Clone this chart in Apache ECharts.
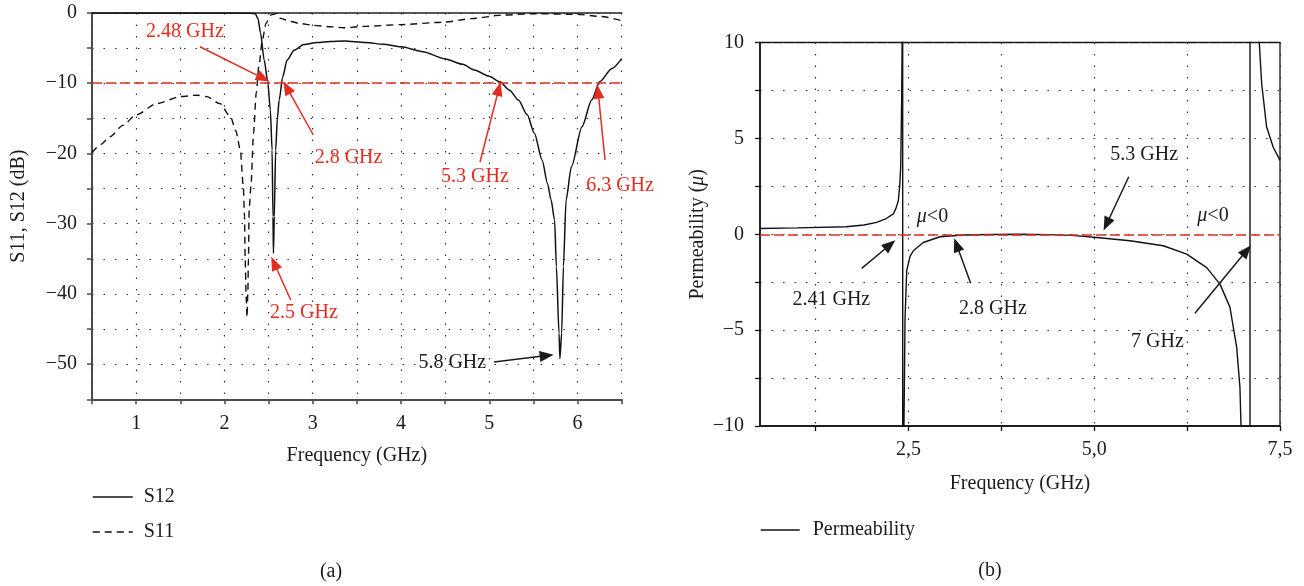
<!DOCTYPE html>
<html><head><meta charset="utf-8">
<script src="https://cdn.jsdelivr.net/npm/echarts@6/dist/echarts.min.js"></script>
<style>html,body{margin:0;padding:0;background:#fff}#c{width:1304px;height:586px}</style>
</head><body><div id="c"></div>
<script>
// ================= DATA: panel (a) =================
// S12 transmission (GHz, dB)
const s12 = [[0.5,0],[1.0,0],[1.5,0],[2.0,0],[2.3,-0.02],[2.35,-0.1],[2.38,-0.8],[2.41,-2.9],[2.45,-6.7],[2.49,-9.7],
  [2.52,-13.8],[2.54,-19.5],[2.55,-29],[2.555,-34.2],[2.565,-29],[2.58,-19.5],[2.60,-15],[2.62,-12.4],[2.66,-9.1],
  [2.71,-6.7],[2.79,-5.3],[2.9,-4.5],[3.05,-4.2],[3.2,-4.05],[3.36,-4.0],[3.6,-4.2],[3.8,-4.45],[4.0,-4.8],[4.25,-5.5],
  [4.49,-6.5],[4.7,-7.3],[4.83,-8.1],[5.0,-9.0],[5.12,-9.8],[5.23,-11],[5.33,-12.4],[5.43,-14.5],[5.51,-17.1],[5.6,-21],
  [5.66,-24.3],[5.70,-26.6],[5.74,-29.5],[5.76,-36.1],[5.79,-45.6],[5.80,-49.2],[5.82,-45.6],[5.84,-36.1],[5.87,-26.6],
  [5.93,-21.9],[6.05,-16.2],[6.16,-12.4],[6.25,-9.8],[6.39,-7.9],[6.5,-6.5]];
// S11 reflection (GHz, dB)
const s11 = [[0.5,-19.9],[0.6,-18.7],[0.705,-17.6],[0.85,-16],[1.0,-14.5],[1.235,-12.9],[1.5,-11.9],[1.69,-11.7],
  [1.8,-11.9],[1.95,-12.9],[2.07,-14.8],[2.13,-16.8],[2.18,-19.5],[2.214,-24.7],[2.228,-29],[2.235,-35],[2.245,-40],
  [2.256,-43.3],[2.265,-40],[2.272,-35],[2.28,-28],[2.30,-24.7],[2.33,-17.1],[2.36,-11.4],[2.39,-7.6],[2.43,-3.8],
  [2.47,-1.5],[2.52,-0.3],[2.58,-0.1],[2.64,-0.8],[2.75,-1.2],[2.86,-1.5],[3.0,-1.75],[3.2,-1.95],[3.35,-2.1],
  [3.6,-1.9],[4.0,-1.65],[4.49,-1.3],[4.8,-0.8],[5.14,-0.3],[5.5,-0.1],[6.0,-0.2],[6.27,-0.5],[6.5,-1.1]];
const refLevelA = -10;
const xRangeA = [0.5, 6.5];
const yRangeA = [-55, 0];
const yTickLabelsA = [0, -10, -20, -30, -40, -50];
const xTickLabelsA = [1, 2, 3, 4, 5, 6];
// annotations (a): label, text anchor, arrow start, arrow tip, colour key
const annLabelsA = ['2.48 GHz', '2.8 GHz', '5.3 GHz', '6.3 GHz', '2.5 GHz', '5.8 GHz'];
const annTextA = [[1.553,-2.66],[3.406,-20.64],[4.838,-23.35],[6.481,-24.63],[2.901,-42.71],[4.581,-49.83]];
const annFromA = [[1.723,-4.80],[3.007,-17.37],[4.895,-21.21],[6.311,-20.93],[2.751,-40.86],[5.054,-49.69]];
const annToA = [[2.440,-9.3],[2.706,-10.6],[5.108,-10.8],[6.233,-11.2],[2.563,-35.6],[5.650,-48.78]];
const annRedA = [true, true, true, true, true, false];

// ================= DATA: panel (b) =================
const perm = [[0.5,0.30],[1.0,0.33],[1.66,0.39],[1.9,0.48],[2.07,0.62],[2.2,0.82],[2.295,1.06],[2.33,1.35],
  [2.362,1.75],[2.38,2.5],[2.394,3.5],[2.407,7.0],[2.413,10],[2.42,30],[2.422,-30],[2.438,-10],[2.452,-4.5],
  [2.475,-1.9],[2.52,-1.15],[2.564,-0.86],[2.698,-0.43],[2.923,-0.13],[3.237,-0.04],[3.6,-0.01],[4.0,0.0],
  [4.37,-0.02],[4.7,-0.06],[5.032,-0.17],[5.48,-0.34],[5.929,-0.6],[6.244,-1.04],[6.513,-1.74],[6.692,-2.6],
  [6.826,-3.8],[6.917,-5.9],[6.961,-8.0],[6.975,-10],[6.98,-30],[7.096,-30],[7.096,30],[7.215,30],[7.221,10],
  [7.253,7.86],[7.32,5.59],[7.409,4.54],[7.5,3.85]];
const refLevelB = 0;
const xRangeB = [0.5, 7.5];
const yRangeB = [-10, 10];
const xTicksB = [1.25, 2.5, 3.75, 5.0, 6.25, 7.5];
const xTickLabelsB = [2.5, 5.0, 7.5];
const yTickLabelsB = [10, 5, 0, -5, -10];
const annLabelsB = ['{i|μ}<0', '{i|μ}<0', '5.3 GHz', '2.41 GHz', '2.8 GHz', '7 GHz'];
const annTextB = [[2.822,0.90],[6.598,0.95],[5.671,4.13],[1.460,-3.43],[3.636,-3.86],[5.850,-5.60]];
const annFromB = [null, null, [5.464,3.00], [1.869,-1.78], [3.336,-2.56], [6.355,-4.12]];
const annToB = [null, null, [5.165,0.52], [2.250,-0.55], [3.147,-0.55], [7.050,-0.85]];

// ================= STYLE =================
const FF = 'Liberation Serif';
const FS = 20;
const INK = '#1e1a1b';
const RED = '#e42c20';
const minus = v => (v < 0 ? '\u2212' + Math.abs(v) : String(v));

function arrowItems(from, to, colorFn) {
  const out = [];
  for (let i = 0; i < from.length; i++) {
    if (!from[i]) continue;
    const c = colorFn(i);
    out.push([
      {coord: from[i], symbol: 'none', lineStyle: {color: c, width: 1.5, type: 'solid'}},
      {coord: to[i], symbol: 'triangle', symbolSize: [11, 14], itemStyle: {color: c}}
    ]);
  }
  return out;
}
function textItems(labels, pos, colorFn) {
  return labels.map((t, i) => ({value: pos[i], name: t, label: {color: colorFn(i)}}));
}
const dotted = {color: '#333', width: 1.2, type: [1.5, 10]};
const legendBase = {orient: 'vertical', padding: 0, itemHeight: 20, selectedMode: false,
  itemStyle: {opacity: 0, borderWidth: 0}, lineStyle: {width: 1.5}};

const option = {
  animation: false,
  backgroundColor: '#fff',
  textStyle: {fontFamily: FF},
  grid: [
    {left: 92, top: 13, width: 529.7, height: 386.3},
    {left: 760, top: 42.5, width: 520, height: 383.5, show: true, borderColor: '#111', borderWidth: 1.3, backgroundColor: 'transparent'}
  ],
  xAxis: [
    {gridIndex: 0, type: 'value', min: xRangeA[0], max: xRangeA[1], interval: 0.5,
     name: 'Frequency (GHz)', nameLocation: 'middle', nameGap: 46,
     nameTextStyle: {fontFamily: FF, fontSize: FS, color: INK},
     axisLine: {show: true, onZero: false, lineStyle: {color: '#4a4a4a', width: 2}},
     axisTick: {show: true, inside: false, length: 5, lineStyle: {color: '#4a4a4a', width: 1.5}},
     axisLabel: {margin: 14, fontFamily: FF, fontSize: FS, color: INK,
       formatter: v => (xTickLabelsA.indexOf(Math.round(v * 100) / 100) >= 0 ? String(v) : '')},
     splitLine: {show: true, lineStyle: dotted}},
    {gridIndex: 0, type: 'value', position: 'top', min: xRangeA[0], max: xRangeA[1],
     axisLine: {show: true, onZero: false, lineStyle: {color: '#222', width: 1.5}},
     axisTick: {show: false}, axisLabel: {show: false}, splitLine: {show: false}},
    {gridIndex: 1, type: 'value', min: xRangeB[0], max: xRangeB[1],
     name: 'Frequency (GHz)', nameLocation: 'middle', nameGap: 48,
     nameTextStyle: {fontFamily: FF, fontSize: FS, color: INK},
     axisLine: {show: true, onZero: false, lineStyle: {color: '#111', width: 1.5}},
     axisTick: {show: true, length: 5, customValues: xTicksB, lineStyle: {color: '#111', width: 1.3}},
     axisLabel: {margin: 14, fontFamily: FF, fontSize: FS, color: INK, customValues: xTickLabelsB,
       formatter: v => v.toFixed(1).replace('.', ',')},
     splitLine: {show: true, lineStyle: dotted}}
  ],
  yAxis: [
    {gridIndex: 0, type: 'value', min: yRangeA[0], max: yRangeA[1], interval: 5,
     name: 'S11, S12 (dB)', nameLocation: 'middle', nameGap: 63, nameRotate: 90,
     nameTextStyle: {fontFamily: FF, fontSize: FS, color: INK},
     axisLine: {show: true, onZero: false, lineStyle: {color: '#4a4a4a', width: 2}},
     axisTick: {show: true, length: 5, lineStyle: {color: '#4a4a4a', width: 1.5}},
     axisLabel: {margin: 15, fontFamily: FF, fontSize: FS, color: INK,
       formatter: v => (yTickLabelsA.indexOf(v) >= 0 ? minus(v) : '')},
     splitLine: {show: true, lineStyle: dotted}},
    {gridIndex: 1, type: 'value', min: yRangeB[0], max: yRangeB[1], interval: 2.5,
     name: '{n|Permeability (}{i|μ}{n|)}', nameLocation: 'middle', nameGap: 52, nameRotate: 90,
     nameTextStyle: {fontFamily: FF, fontSize: FS, color: INK,
       rich: {n: {fontFamily: FF, fontSize: FS, color: INK}, i: {fontFamily: FF, fontSize: FS, color: INK, fontStyle: 'italic'}}},
     axisLine: {show: true, onZero: false, lineStyle: {color: '#111', width: 1.5}},
     axisTick: {show: true, length: 5, lineStyle: {color: '#111', width: 1.3}},
     axisLabel: {margin: 16, fontFamily: FF, fontSize: FS, color: INK,
       formatter: v => (yTickLabelsB.indexOf(v) >= 0 ? minus(v) : '')},
     splitLine: {show: true, lineStyle: dotted}}
  ],
  legend: [
    Object.assign({}, legendBase, {data: ['S12', 'S11'], left: 92, top: 487, itemGap: 15, itemWidth: 40,
      textStyle: {fontFamily: FF, fontSize: FS, color: INK, padding: [0, 0, 0, 6]}}),
    Object.assign({}, legendBase, {data: ['Permeability'], left: 760, top: 520, itemWidth: 39,
      textStyle: {fontFamily: FF, fontSize: FS, color: INK, padding: [0, 0, 0, 8]}})
  ],
  graphic: [
    {type: 'text', x: 331, y: 572, style: {text: '(a)', font: FS + 'px "' + FF + '"', fill: INK, textAlign: 'center', textVerticalAlign: 'middle'}},
    {type: 'text', x: 990, y: 571, style: {text: '(b)', font: FS + 'px "' + FF + '"', fill: INK, textAlign: 'center', textVerticalAlign: 'middle'}}
  ],
  series: [
    {name: 'S12', type: 'line', xAxisIndex: 0, yAxisIndex: 0, data: s12, symbol: 'none', showSymbol: false,
     smooth: 0.25, smoothMonotone: 'x',
     lineStyle: {color: '#111', width: 1.5}, itemStyle: {color: '#111'}, z: 3,
     markLine: {silent: true, symbol: 'none', label: {show: false},
       lineStyle: {color: RED, type: [10, 4], width: 1.5}, data: [{yAxis: refLevelA}]}},
    {name: 'S11', type: 'line', xAxisIndex: 0, yAxisIndex: 0, data: s11, symbol: 'none', showSymbol: false,
     smooth: 0.25, smoothMonotone: 'x',
     lineStyle: {color: '#111', width: 1.4, type: [7, 5]}, itemStyle: {color: '#111'}, z: 3},
    {name: 'annA', type: 'scatter', xAxisIndex: 0, yAxisIndex: 0, symbolSize: 0, silent: true, z: 5,
     itemStyle: {opacity: 1},
     data: textItems(annLabelsA, annTextA, i => (annRedA[i] ? RED : INK)),
     label: {show: true, position: 'inside', formatter: p => p.name, fontFamily: FF, fontSize: FS,
       textBorderWidth: 0, opacity: 1},
     markLine: {silent: true, label: {show: false}, lineStyle: {width: 1.5, type: 'solid'},
       data: arrowItems(annFromA, annToA, i => (annRedA[i] ? RED : INK))}},
    {name: 'Permeability', type: 'line', xAxisIndex: 2, yAxisIndex: 1, data: perm, symbol: 'none', showSymbol: false,
     lineStyle: {color: '#111', width: 1.4}, itemStyle: {color: '#111'}, z: 3,
     markLine: {silent: true, symbol: 'none', label: {show: false},
       lineStyle: {color: RED, type: [10, 4], width: 1.5}, data: [{yAxis: refLevelB}]}},
    {name: 'annB', type: 'scatter', xAxisIndex: 2, yAxisIndex: 1, symbolSize: 0, silent: true, z: 5,
     itemStyle: {opacity: 1},
     data: textItems(annLabelsB, annTextB, () => INK),
     label: {show: true, position: 'inside', formatter: p => p.name, fontFamily: FF, fontSize: FS, color: INK,
       textBorderWidth: 0, opacity: 1,
       rich: {i: {fontFamily: FF, fontSize: FS, color: INK, fontStyle: 'italic'}}},
     markLine: {silent: true, label: {show: false}, lineStyle: {width: 1.5, type: 'solid'},
       data: arrowItems(annFromB, annToB, () => INK)}}
  ]
};
const chart = echarts.init(document.getElementById('c'), null, {renderer: 'canvas'});
chart.setOption(option);
</script></body></html>
